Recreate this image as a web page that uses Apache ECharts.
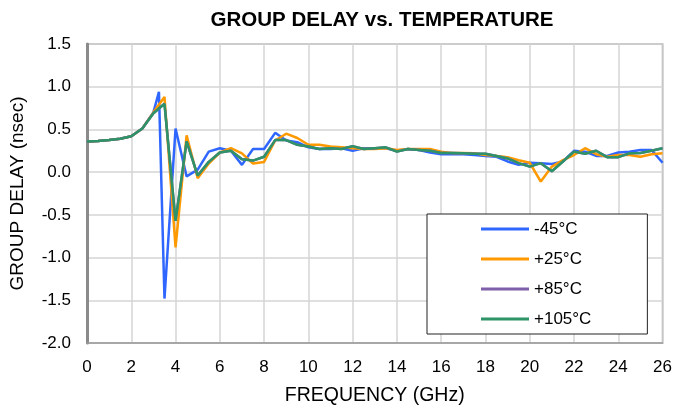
<!DOCTYPE html>
<html><head><meta charset="utf-8">
<script src="https://cdn.jsdelivr.net/npm/echarts@6/dist/echarts.min.js"></script>
<style>html,body{margin:0;padding:0;background:#fff}#c{width:675px;height:411px}</style>
</head><body><div id="c"></div>
<script>
const freq = [0,0.5,1,1.5,2,2.5,3,3.25,3.5,4,4.5,5,5.5,6,6.5,7,7.5,8,8.5,9,9.5,10,10.5,11,11.5,12,12.5,13,13.5,14,14.5,15,15.5,16,16.5,17,17.5,18,18.5,19,19.5,20,20.5,21,21.5,22,22.5,23,23.5,24,24.5,25,25.5,26];
const m45 = [0.36,0.365,0.375,0.39,0.42,0.51,0.70,0.94,-1.48,0.51,-0.05,0.03,0.24,0.28,0.25,0.085,0.27,0.27,0.46,0.37,0.35,0.29,0.27,0.27,0.28,0.25,0.28,0.28,0.28,0.25,0.27,0.26,0.23,0.21,0.21,0.21,0.20,0.19,0.18,0.125,0.085,0.11,0.105,0.095,0.125,0.25,0.24,0.19,0.19,0.23,0.24,0.26,0.26,0.11];
const p25 = [0.36,0.365,0.375,0.39,0.42,0.51,0.70,null,0.88,-0.88,0.43,-0.07,0.10,0.23,0.28,0.22,0.10,0.12,0.37,0.45,0.40,0.32,0.32,0.30,0.29,0.28,0.27,0.27,0.28,0.26,0.27,0.27,0.27,0.24,0.225,0.225,0.22,0.20,0.19,0.175,0.14,0.11,-0.11,0.065,0.14,0.20,0.28,0.21,0.18,0.20,0.20,0.18,0.21,0.22];
const p85 = [0.36,0.365,0.375,0.39,0.42,0.51,0.69,null,0.80,-0.57,0.36,-0.04,0.12,0.23,0.25,0.15,0.135,0.18,0.375,0.375,0.32,0.30,0.27,0.28,0.27,0.305,0.27,0.28,0.29,0.24,0.27,0.26,0.25,0.225,0.225,0.22,0.215,0.215,0.19,0.16,0.105,0.065,0.105,0.01,0.125,0.24,0.215,0.25,0.175,0.175,0.22,0.225,0.25,0.28];
const p105 = [0.36,0.365,0.375,0.39,0.42,0.51,0.69,null,0.80,-0.57,0.36,-0.04,0.12,0.23,0.25,0.15,0.135,0.18,0.375,0.375,0.32,0.30,0.27,0.28,0.27,0.305,0.27,0.28,0.29,0.24,0.27,0.26,0.25,0.225,0.225,0.22,0.215,0.215,0.19,0.16,0.105,0.065,0.105,0.01,0.125,0.24,0.215,0.25,0.175,0.175,0.22,0.225,0.25,0.28];
const names = ['-45°C','+25°C','+85°C','+105°C'];
const colors = ['#2F66FF','#FF9900','#7F5FA8','#2E9467'];
const seriesVals = [m45,p25,p85,p105];

const chart = echarts.init(document.getElementById('c'));
const FONT = 'Liberation Sans, Arial, sans-serif';
chart.setOption({
  animation:false,
  title:{text:'GROUP DELAY vs. TEMPERATURE',left:377,textAlign:'center',top:5,
    textStyle:{fontFamily:FONT,fontSize:20.5,fontWeight:'bold',color:'#000'}},
  grid:{left:87,right:9,top:44,bottom:66,show:true,borderColor:'#9a9a9a',borderWidth:1.5},
  legend:{orient:'vertical',left:427,top:214,data:names,
    itemWidth:48,itemHeight:3,itemGap:12,icon:'rect',
    padding:[6,56,6,54],borderColor:'#222',borderWidth:1,backgroundColor:'#fff',
    textStyle:{fontFamily:FONT,fontSize:17,color:'#000',lineHeight:18}},
  xAxis:{type:'value',min:0,max:26,interval:2,
    name:'FREQUENCY (GHz)',nameLocation:'middle',nameGap:43,
    nameTextStyle:{fontFamily:FONT,fontSize:19.5,color:'#000'},
    axisLine:{show:true,onZero:false,lineStyle:{color:'#9a9a9a',width:1.5}},axisTick:{show:false},
    axisLabel:{fontFamily:FONT,fontSize:17,color:'#000',margin:16},
    splitLine:{show:true,lineStyle:{color:'#d4d4d4',width:1.5}}},
  yAxis:{type:'value',min:-2,max:1.5,interval:0.5,
    name:'GROUP DELAY (nsec)',nameLocation:'middle',nameGap:60,
    nameTextStyle:{fontFamily:FONT,fontSize:19,color:'#000'},
    axisLine:{show:true,onZero:false,lineStyle:{color:'#8a8a8a',width:3}},axisTick:{show:false},
    axisLabel:{fontFamily:FONT,fontSize:17,color:'#000',margin:16,formatter:v=>v.toFixed(1)},
    splitLine:{show:true,lineStyle:{color:'#d4d4d4',width:1.5}}},
  series: names.map((n,i)=>({name:n,type:'line',showSymbol:false,symbol:'none',connectNulls:true,
    z:2+i,lineStyle:{width:2.5,color:colors[i]},itemStyle:{color:colors[i]},
    data: freq.map((f,k)=>[f,seriesVals[i][k]])}))
});
</script></body></html>
